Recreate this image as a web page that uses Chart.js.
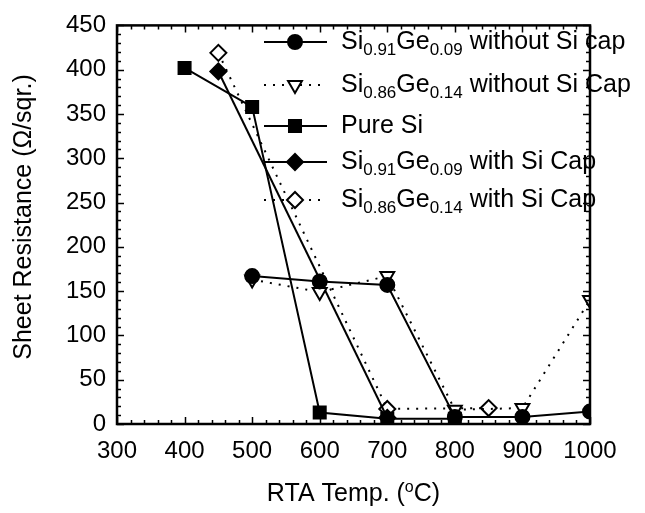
<!DOCTYPE html>
<html>
<head>
<meta charset="utf-8">
<script src="https://cdn.jsdelivr.net/npm/chart.js@4/dist/chart.umd.min.js"></script>
<style>
  html, body { margin: 0; padding: 0; background: #fff; }
  #wrap { width: 645px; height: 513px; }
</style>
</head>
<body>
<div id="wrap"><canvas id="chart" width="645" height="513"></canvas></div>
<script>
// RTA temperature (C) and sheet resistance (ohm/sq) per sample
var siGe09NoCapTemp = [500, 600, 700, 800, 900, 1000];
var siGe09NoCapRs   = [167, 161, 157, 8, 8, 14];
var siGe14NoCapTemp = [500, 600, 700, 800, 900, 1000];
var siGe14NoCapRs   = [163, 149, 167, 16, 18, 140];
var pureSiTemp      = [400, 500, 600, 700, 800];
var pureSiRs        = [402, 358, 13, 6, 6];
var siGe09CapTemp   = [450, 700];
var siGe09CapRs     = [398, 7];
var siGe14CapTemp   = [450, 700, 850];
var siGe14CapRs     = [419, 17, 18];

var xTicks = [300, 400, 500, 600, 700, 800, 900, 1000];
var yTicks = [0, 50, 100, 150, 200, 250, 300, 350, 400, 450];

// legend text pieces: [text, subscript?]
var legendLabels = [
    [["Si", 0], ["0.91", 1], ["Ge", 0], ["0.09", 1], [" without Si cap", 0]],
    [["Si", 0], ["0.86", 1], ["Ge", 0], ["0.14", 1], [" without Si Cap", 0]],
    [["Pure Si", 0]],
    [["Si", 0], ["0.91", 1], ["Ge", 0], ["0.09", 1], [" with Si Cap", 0]],
    [["Si", 0], ["0.86", 1], ["Ge", 0], ["0.14", 1], [" with Si Cap", 0]]
];

function pts(xs, ys) {
    return xs.map(function (x, i) { return {x: x, y: ys[i]}; });
}

var FONT = "'Liberation Sans', Arial, sans-serif";
var DOTS = [2, 7];

function series(label, xs, ys, style, fill, rot, radius, dotted) {
    return {
        label: label,
        data: pts(xs, ys),
        borderColor: "#000",
        backgroundColor: fill ? "#000" : "#fff",
        borderWidth: 2,
        borderDash: dotted ? DOTS : [],
        pointStyle: style,
        rotation: rot,
        pointRadius: radius,
        pointBorderWidth: 2,
        pointBorderColor: "#000",
        pointBackgroundColor: fill ? "#000" : "#fff",
        tension: 0
    };
}

var datasets = [
    series("Si0.91Ge0.09 without Si cap", siGe09NoCapTemp, siGe09NoCapRs, "circle", true, 0, 7, false),
    series("Si0.86Ge0.14 without Si Cap", siGe14NoCapTemp, siGe14NoCapRs, "triangle", false, 180, 8, true),
    series("Pure Si", pureSiTemp, pureSiRs, "rect", true, 0, 8.5, false),
    series("Si0.91Ge0.09 with Si Cap", siGe09CapTemp, siGe09CapRs, "rectRot", true, 0, 8, false),
    series("Si0.86Ge0.14 with Si Cap", siGe14CapTemp, siGe14CapRs, "rectRot", false, 0, 8, true)
];

var frameAndLegend = {
    id: "frameAndLegend",
    afterDatasetsDraw: function (chart) {
        var ctx = chart.ctx, a = chart.chartArea;
        var xs = chart.scales.x, ys = chart.scales.y;
        ctx.save();

        // legend
        var rowY = [42, 85, 126, 162, 200];
        datasets.forEach(function (ds, i) {
            var y = rowY[i];
            ctx.strokeStyle = "#000";
            ctx.lineWidth = 2;
            ctx.setLineDash(ds.borderDash);
            ctx.beginPath();
            ctx.moveTo(264, y);
            ctx.lineTo(327, y);
            ctx.stroke();
            ctx.setLineDash([]);
            ctx.fillStyle = ds.pointBackgroundColor;
            ctx.lineWidth = 2;
            Chart.helpers.drawPoint(ctx, {
                pointStyle: ds.pointStyle, rotation: ds.rotation,
                radius: ds.pointRadius, borderWidth: 2
            }, 295, y);
            var tx = 341;
            ctx.fillStyle = "#000";
            ctx.textBaseline = "alphabetic";
            ctx.textAlign = "left";
            legendLabels[i].forEach(function (p) {
                ctx.font = (p[1] ? "17px " : "25px ") + FONT;
                ctx.fillText(p[0], tx, p[1] ? y + 13 : y + 7);
                tx += ctx.measureText(p[0]).width;
            });
        });

        // inward tick marks on all four sides
        ctx.strokeStyle = "#000";
        ctx.lineWidth = 1.5;
        ctx.beginPath();
        for (var v = 300; v <= 1000; v += 20) {
            var px = Math.round(xs.getPixelForValue(v)) + 0.5;
            var len = (v % 100 === 0) ? 7 : 4;
            ctx.moveTo(px, a.bottom); ctx.lineTo(px, a.bottom - len);
            ctx.moveTo(px, a.top); ctx.lineTo(px, a.top + len);
        }
        for (var w = 0; w <= 450; w += 10) {
            var py = Math.round(ys.getPixelForValue(w)) + 0.5;
            var l2 = (w % 50 === 0) ? 7 : 4;
            ctx.moveTo(a.left, py); ctx.lineTo(a.left + l2, py);
            ctx.moveTo(a.right, py); ctx.lineTo(a.right - l2, py);
        }
        ctx.stroke();

        // frame
        ctx.lineWidth = 2.5;
        ctx.strokeRect(a.left, a.top, a.right - a.left, a.bottom - a.top);

        // axis titles
        ctx.fillStyle = "#000";
        ctx.font = "25px " + FONT;
        ctx.textAlign = "center";
        ctx.textBaseline = "middle";
        ctx.save();
        ctx.translate(24, 217);
        ctx.rotate(-Math.PI / 2);
        ctx.fillText("Sheet Resistance (\u03A9/sqr.)", 0, 0);
        ctx.restore();

        var t1 = "RTA Temp. (", t2 = "o", t3 = "C)";
        ctx.font = "25px " + FONT;
        var w1 = ctx.measureText(t1).width, w3 = ctx.measureText(t3).width;
        ctx.font = "16px " + FONT;
        var w2 = ctx.measureText(t2).width;
        var sx = (a.left + a.right) / 2 - (w1 + w2 + w3) / 2;
        ctx.textAlign = "left";
        ctx.textBaseline = "alphabetic";
        ctx.font = "25px " + FONT;
        ctx.fillText(t1, sx, 501);
        ctx.font = "16px " + FONT;
        ctx.fillText(t2, sx + w1, 492);
        ctx.font = "25px " + FONT;
        ctx.fillText(t3, sx + w1 + w2, 501);

        ctx.restore();
    }
};

new Chart(document.getElementById("chart"), {
    type: "line",
    data: { datasets: datasets },
    options: {
        responsive: false,
        animation: false,
        layout: { padding: { top: 20, right: 55, left: 0, bottom: 0 } },
        plugins: {
            legend: { display: false },
            tooltip: { enabled: false }
        },
        scales: {
            x: {
                type: "linear",
                min: 300, max: 1000,
                afterBuildTicks: function (s) { s.ticks = xTicks.map(function (v) { return {value: v}; }); },
                afterFit: function (s) { s.height = 89; },
                grid: { display: false, drawTicks: false },
                border: { display: false },
                ticks: {
                    color: "#000", font: { family: FONT, size: 24 }, padding: 13, maxRotation: 0,
                    callback: function (v) { return String(v); }
                }
            },
            y: {
                type: "linear",
                min: 0, max: 450,
                afterBuildTicks: function (s) { s.ticks = yTicks.map(function (v) { return {value: v}; }); },
                afterFit: function (s) { s.width = 117; },
                grid: { display: false, drawTicks: false },
                border: { display: false },
                ticks: { color: "#000", font: { family: FONT, size: 24 }, padding: 11 }
            }
        }
    },
    plugins: [frameAndLegend]
});
</script>
</body>
</html>
